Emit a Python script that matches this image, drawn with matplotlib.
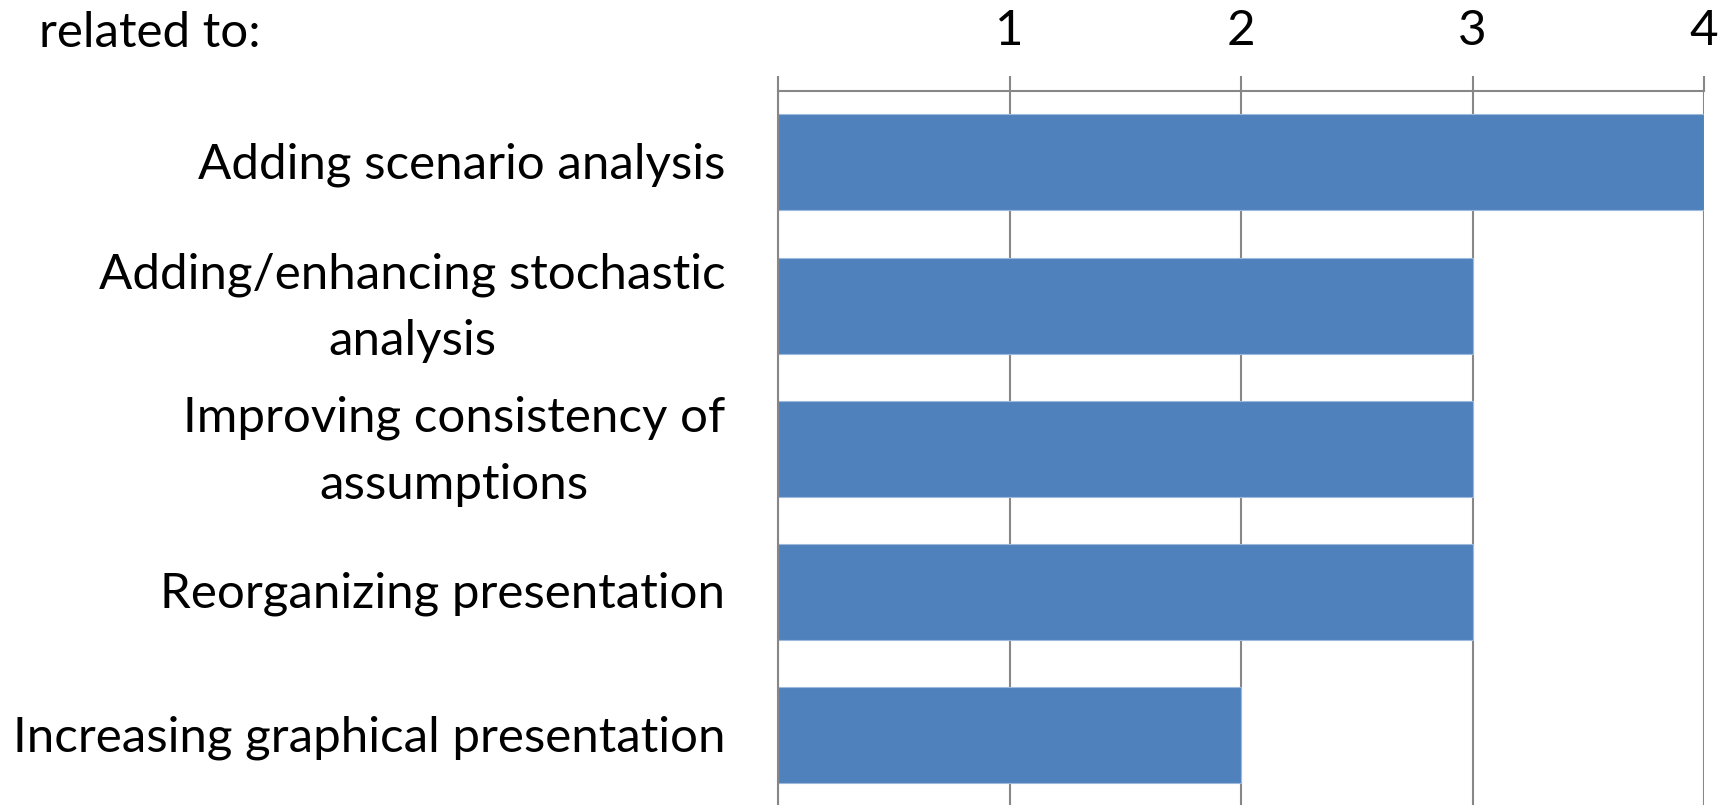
import matplotlib
matplotlib.use("Agg")
import matplotlib.pyplot as plt
from matplotlib.ticker import FixedLocator, FixedFormatter

# Survey responses: number of respondents per improvement area
categories = [
    "Adding scenario analysis",
    "Adding/enhancing stochastic\nanalysis",
    "Improving consistency of\nassumptions",
    "Reorganizing presentation",
    "Increasing graphical presentation",
]
counts = [4, 3, 3, 3, 2]
x_ticks = [0, 1, 2, 3, 4]
x_tick_labels = ["", "1", "2", "3", "4"]
header_text = "related to:"

plt.rcParams["font.family"] = ["Lato", "DejaVu Sans"]

W, H, DPI = 1730, 805, 100
fig = plt.figure(figsize=(W / DPI, H / DPI), dpi=DPI)

left_px, right_px, top_px, bottom_px = 778, 1704, 90.7, 807
ax = fig.add_axes([left_px / W, 1 - bottom_px / H,
                   (right_px - left_px) / W, (bottom_px - top_px) / H])

bar_color = "#4F81BD"
line_color = "#878787"
fs = 35.5

y = list(range(len(categories)))
ax.barh(y, counts, height=0.67, color=bar_color, edgecolor="#9DB9DC",
        linewidth=0.8, zorder=2)

ax.set_xlim(0, 4)
ax.set_ylim(len(categories) - 0.5, -0.5)

# value axis along the top with vertical gridlines
ax.xaxis.tick_top()
ax.xaxis.set_major_locator(FixedLocator(x_ticks))
ax.xaxis.set_major_formatter(FixedFormatter(x_tick_labels))
ax.tick_params(axis="x", which="major", length=10.8, width=1.5,
               color=line_color, labelsize=fs, pad=16, labelcolor="black")
ax.set_axisbelow(True)
ax.xaxis.grid(True, color=line_color, linewidth=1.5, zorder=0)

# category labels to the left of the bars, multi-line ones centred
ax.set_yticks(y)
ax.set_yticklabels([])
ax.tick_params(axis="y", length=0)
for yi, name in zip(y, categories):
    ax.annotate(name, xy=(0, yi), xycoords=("axes fraction", "data"),
                xytext=(-38, -1.5), textcoords="offset points",
                ha="right", va="center", multialignment="center",
                linespacing=1.63, fontsize=fs, annotation_clip=False)

for side in ("right", "bottom"):
    ax.spines[side].set_visible(False)
for side in ("left", "top"):
    ax.spines[side].set_color(line_color)
    ax.spines[side].set_linewidth(1.5)

fig.text(39 / W, 1 - 47 / H, header_text, fontsize=fs,
         ha="left", va="baseline")

fig.savefig("out.png", dpi=DPI, facecolor="white")
